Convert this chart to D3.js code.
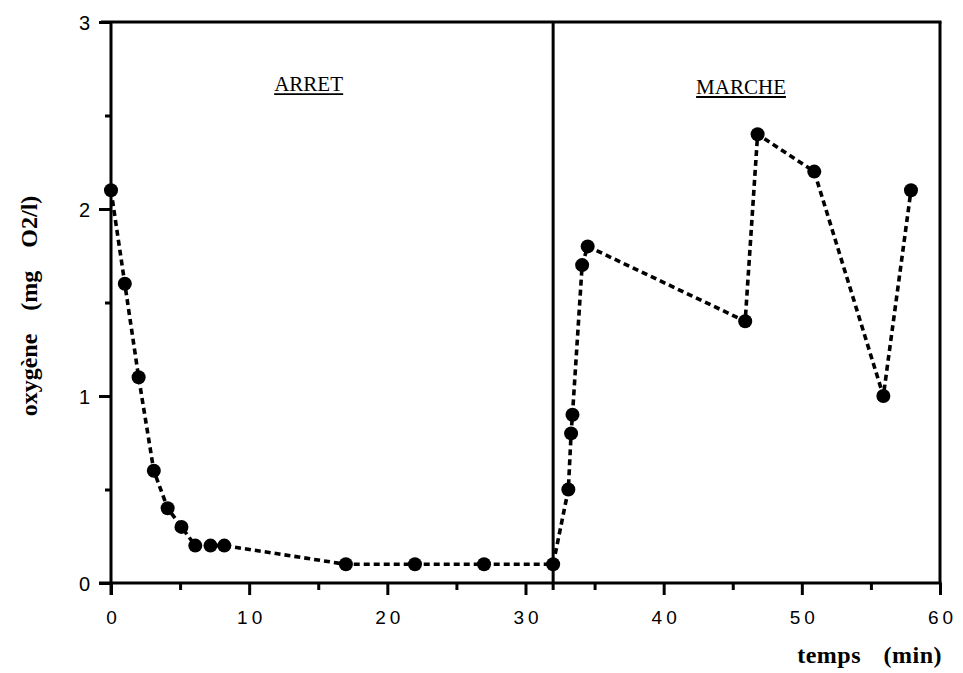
<!DOCTYPE html>
<html>
<head>
<meta charset="utf-8">
<script src="https://cdn.jsdelivr.net/npm/d3@7"></script>
<style>
  body { margin: 0; background: #fff; }
  svg { display: block; }
</style>
</head>
<body>
<svg class="svg-chart"></svg>
<script>
// oxygen measurements, pump stopped then running
var timeMin = [0, 1, 2, 3.1, 4.1, 5.1, 6.1, 7.2, 8.2, 17, 22, 27, 32,
  33.1, 33.3, 33.4, 34.1, 34.5, 45.9, 46.8, 50.9, 55.9, 57.9];
var oxygen = [2.1, 1.6, 1.1, 0.6, 0.4, 0.3, 0.2, 0.2, 0.2, 0.1, 0.1, 0.1, 0.1,
  0.5, 0.8, 0.9, 1.7, 1.8, 1.4, 2.4, 2.2, 1.0, 2.1];

var xTicks = [0, 10, 20, 30, 40, 50, 60];
var xMinorTicks = [5, 15, 25, 35, 45, 55];
var yTicks = [0, 1, 2, 3];
var yMinorTicks = [0.5, 1.5, 2.5];

var phaseNames = ["ARRET", "MARCHE"];
var phaseSwitch = 32;

var margin = {top: 22, right: 23, bottom: 90, left: 111},
    width = 963 - margin.left - margin.right,
    height = 673 - margin.top - margin.bottom;

var x = d3.scaleLinear().domain([0, 60]).range([0, width]);
var y = d3.scaleLinear().domain([0, 3]).range([height, 0]);

var svg = d3.select(".svg-chart")
    .attr("width", 963)
    .attr("height", 673);

var chart = svg.append("g")
    .attr("transform", "translate(" + margin.left + "," + margin.top + ")");

var axisW = 3;

// frame: top and right sides
chart.append("line")
    .attr("x1", -10).attr("x2", width + axisW / 2)
    .attr("y1", 0).attr("y2", 0)
    .style("stroke", "#000").style("stroke-width", axisW);
chart.append("line")
    .attr("x1", width).attr("x2", width)
    .attr("y1", 0).attr("y2", height)
    .style("stroke", "#000").style("stroke-width", axisW);

// separator between the two phases
chart.append("line")
    .attr("x1", x(phaseSwitch)).attr("x2", x(phaseSwitch))
    .attr("y1", 0).attr("y2", height + 7)
    .style("stroke", "#000").style("stroke-width", axisW);

// axes
var xAxis = chart.append("g")
    .attr("transform", "translate(0," + height + ")")
    .call(d3.axisBottom(x).tickValues(xTicks).tickSize(12).tickSizeOuter(0));
var xMinor = chart.append("g")
    .attr("transform", "translate(0," + height + ")")
    .call(d3.axisBottom(x).tickValues(xMinorTicks).tickSize(7).tickFormat(""));
xMinor.select(".domain").remove();

var yAxis = chart.append("g")
    .call(d3.axisLeft(y).tickValues(yTicks).tickSize(12).tickSizeOuter(0)
      .tickFormat(d3.format("d")));
var yMinor = chart.append("g")
    .call(d3.axisLeft(y).tickValues(yMinorTicks).tickSize(6).tickFormat(""));
yMinor.select(".domain").remove();

// x axis line runs a little past the y axis, like the original plot
xAxis.select(".domain")
    .attr("d", "M-12,0H" + (width + axisW / 2));
yAxis.select(".domain")
    .attr("d", "M0," + (height + 12) + "V0");

svg.selectAll(".domain, .tick line")
    .attr("stroke", "#000")
    .attr("stroke-width", axisW);

xAxis.selectAll("text")
    .attr("y", 41)
    .attr("dy", 0)
    .attr("dx", 2)
    .attr("fill", "#000")
    .style("font-family", "'Liberation Sans', Arial, sans-serif")
    .style("font-size", "19px")
    .style("letter-spacing", "4px");

yAxis.selectAll("text")
    .attr("x", -21)
    .attr("dy", "0.36em")
    .attr("fill", "#000")
    .style("font-family", "'Liberation Sans', Arial, sans-serif")
    .style("font-size", "20px");

// dashed connecting line
var line = d3.line()
    .x(function(d, i) { return x(timeMin[i]); })
    .y(function(d) { return y(d); });

chart.append("path")
    .datum(oxygen)
    .attr("d", line)
    .style("fill", "none")
    .style("stroke", "#000")
    .style("stroke-width", 3.6)
    .style("stroke-dasharray", "6,4");

chart.selectAll(".dot")
    .data(oxygen)
    .enter().append("circle")
    .attr("class", "dot")
    .attr("cx", function(d, i) { return x(timeMin[i]); })
    .attr("cy", function(d) { return y(d); })
    .attr("r", 7)
    .style("fill", "#000");

// phase labels, underlined
var labelX = [14.3, 45.6];
var labelY = [2.63, 2.615];
phaseNames.forEach(function(name, i) {
  var t = chart.append("text")
      .attr("x", x(labelX[i]))
      .attr("y", y(labelY[i]))
      .attr("text-anchor", "middle")
      .style("font-family", "'Liberation Serif', 'Times New Roman', serif")
      .style("font-size", "21px")
      .style("fill", "#000")
      .text(name);
  var bb = t.node().getBBox();
  chart.append("line")
      .attr("x1", bb.x).attr("x2", bb.x + bb.width)
      .attr("y1", y(labelY[i]) + 3).attr("y2", y(labelY[i]) + 3)
      .style("stroke", "#000")
      .style("stroke-width", 1.8);
});

// axis titles
svg.append("text")
    .attr("transform", "translate(37,306) rotate(-90)")
    .attr("text-anchor", "middle")
    .style("font-family", "'Liberation Serif', 'Times New Roman', serif")
    .style("font-weight", "bold")
    .style("font-size", "24px")
    .style("word-spacing", "17px")
    .style("fill", "#000")
    .text("oxygène (mg O2/l)");

svg.append("text")
    .attr("x", 942)
    .attr("y", 663)
    .attr("text-anchor", "end")
    .style("font-family", "'Liberation Serif', 'Times New Roman', serif")
    .style("font-weight", "bold")
    .style("font-size", "24px")
    .style("letter-spacing", "0.5px")
    .style("word-spacing", "16px")
    .style("fill", "#000")
    .text("temps (min)");
</script>
</body>
</html>
